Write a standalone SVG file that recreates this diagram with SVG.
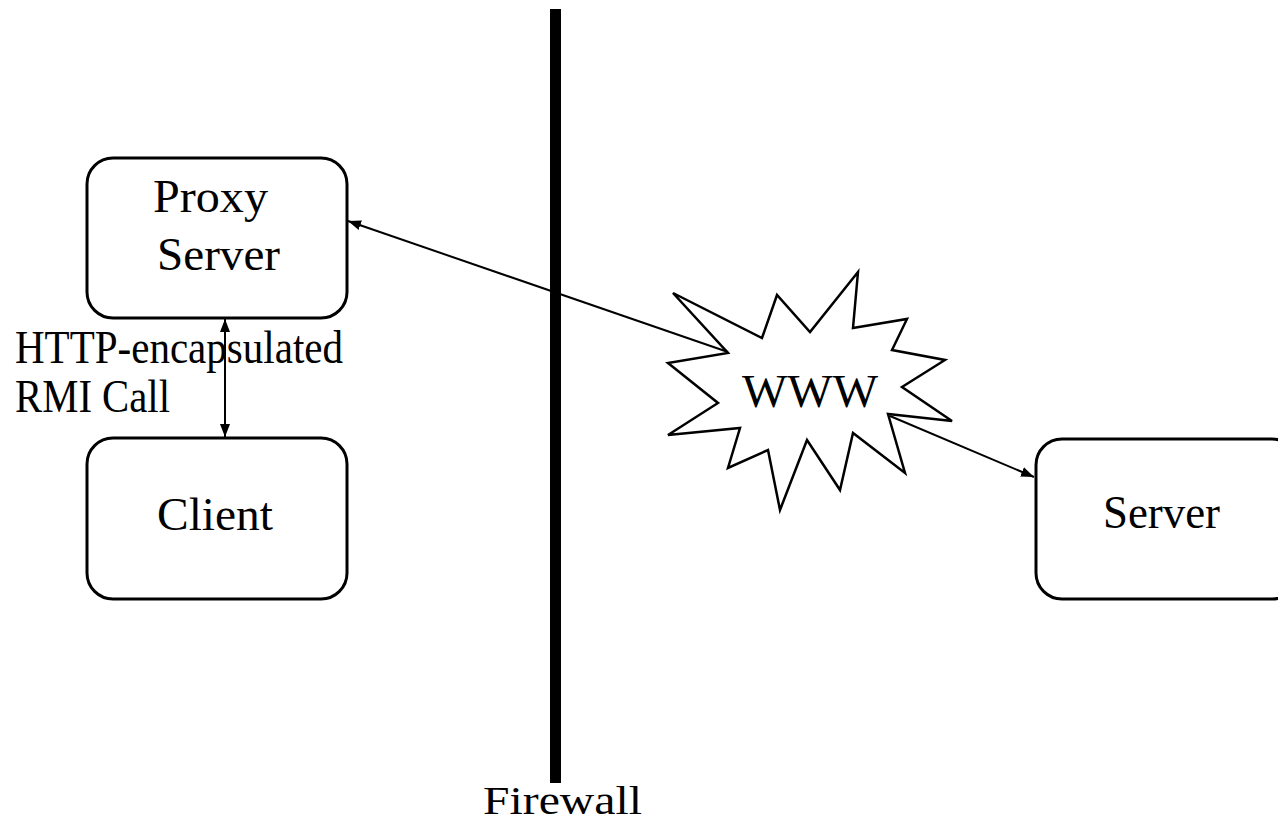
<svg xmlns="http://www.w3.org/2000/svg" width="1278" height="825" viewBox="0 0 1278 825">
<style>
.box{fill:#fff;stroke:#000;stroke-width:3}
.lbl{font-family:"Liberation Serif","Times New Roman",serif;font-size:46px;fill:#000}
.con{stroke:#000;stroke-width:2;fill:none}
</style>
<defs>
<marker id="ah" markerUnits="userSpaceOnUse" markerWidth="14" markerHeight="12" refX="13" refY="6" orient="auto">
<path d="M0,1 L13,6 L0,11 Z" fill="#000"/>
</marker>
</defs>
<rect width="1278" height="825" fill="#fff"/>
<g id="firewall">
<rect x="550" y="9" width="11" height="774" fill="#000"/>
<text class="lbl" x="483" y="814" style="font-size:40px" textLength="159" lengthAdjust="spacingAndGlyphs">Firewall</text>
</g>
<g id="proxy">
<rect class="box" x="87" y="158" width="260" height="160" rx="26" ry="26"/>
<text class="lbl" x="153" y="212" textLength="115" lengthAdjust="spacingAndGlyphs">Proxy</text>
<text class="lbl" x="157" y="270" textLength="123" lengthAdjust="spacingAndGlyphs">Server</text>
</g>
<g id="client">
<rect class="box" x="87" y="438" width="260" height="161" rx="26" ry="26"/>
<text class="lbl" x="157" y="530" textLength="116" lengthAdjust="spacingAndGlyphs">Client</text>
</g>
<g id="server">
<rect class="box" x="1036" y="439" width="262" height="160" rx="26" ry="26"/>
<text class="lbl" x="1103" y="528" textLength="117" lengthAdjust="spacingAndGlyphs">Server</text>
</g>
<g id="www">
<polygon points="858,272 853,328 907,319 892,350 945,360 902,387 952,421 888,414 905,473 853,433 840,490 807,440 780,510 768,450 728,468 740,428 668,435 718,403 668,363 728,353 673,293 762,338 777,295 810,332" fill="#fff" stroke="#000" stroke-width="2.5" stroke-linejoin="miter"/>
<text class="lbl" x="742" y="407" textLength="136" lengthAdjust="spacingAndGlyphs">WWW</text>
</g>
<g id="connectors">
<line class="con" x1="728" y1="352" x2="348" y2="221" marker-end="url(#ah)"/>
<line class="con" x1="890" y1="416" x2="1034" y2="477" marker-end="url(#ah)"/>
<line class="con" x1="225" y1="378" x2="225" y2="319" marker-end="url(#ah)"/>
<line class="con" x1="225" y1="378" x2="225" y2="437" marker-end="url(#ah)"/>
</g>
<g id="label-http">
<text class="lbl" x="15" y="363" textLength="328" lengthAdjust="spacingAndGlyphs">HTTP-encapsulated</text>
<text class="lbl" x="15" y="412" textLength="155" lengthAdjust="spacingAndGlyphs">RMI Call</text>
</g>
</svg>
